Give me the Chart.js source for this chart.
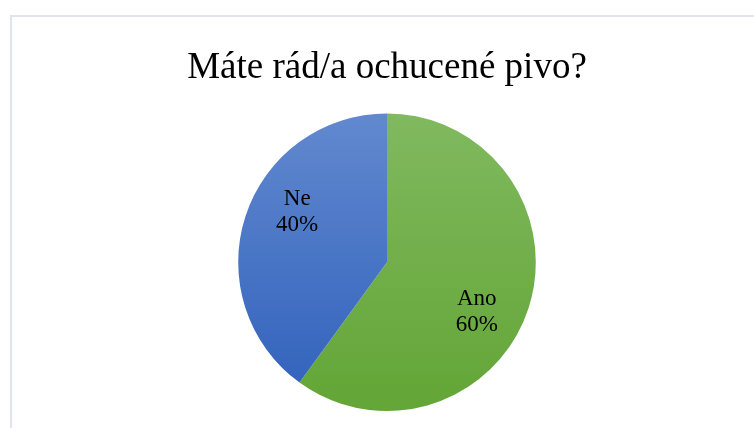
<!DOCTYPE html>
<html>
<head>
<meta charset="utf-8">
<script src="https://cdn.jsdelivr.net/npm/chart.js@4/dist/chart.umd.min.js"></script>
<style>
  html, body { margin: 0; padding: 0; background: #fff; }
  #wrap { position: relative; width: 754px; height: 428px; overflow: hidden; }
  #frame {
    position: absolute; left: 10px; top: 15px; width: 800px; height: 500px;
    border: 2px solid #e1e4ec; box-sizing: border-box;
  }
  #chart { position: absolute; left: 0; top: 0; }
</style>
</head>
<body>
<div id="wrap">
  <div id="frame"></div>
  <canvas id="chart" width="754" height="428"></canvas>
</div>
<script>
const TITLE = 'Máte rád/a ochucené pivo?';
const labels = ['Ano', 'Ne'];
const percents = [60, 40];
const gradTop = ['#80b95f', '#6289cf'];
const gradBottom = ['#63a536', '#2f60bb'];

const SERIF = '"Liberation Serif", "Times New Roman", serif';

// vertical gradient over the pie, one per slice
const sliceFill = (ctx) => {
  const i = ctx.dataIndex;
  const area = ctx.chart.chartArea;
  if (!area) return gradBottom[i];
  const g = ctx.chart.ctx.createLinearGradient(0, area.top, 0, area.bottom);
  g.addColorStop(0, gradTop[i]);
  g.addColorStop(1, gradBottom[i]);
  return g;
};

// "best fit" style labels: a bit past the slice middle, inside the pie
const sliceLabels = {
  id: 'sliceLabels',
  afterDatasetsDraw(chart) {
    const { ctx } = chart;
    const meta = chart.getDatasetMeta(0);
    const skew = 11 * Math.PI / 180;
    ctx.save();
    ctx.font = '23px ' + SERIF;
    ctx.fillStyle = '#000';
    ctx.textAlign = 'center';
    ctx.textBaseline = 'middle';
    meta.data.forEach((arc, i) => {
      const { x, y, startAngle, endAngle, outerRadius } = arc.getProps(['x', 'y', 'startAngle', 'endAngle', 'outerRadius'], true);
      const mid = (startAngle + endAngle) / 2 + skew;
      const r = outerRadius * 0.69;
      const cx = x + Math.cos(mid) * r;
      const cy = y + Math.sin(mid) * r;
      ctx.fillText(labels[i], cx, cy - 13);
      ctx.fillText(percents[i] + '%', cx, cy + 13);
    });
    ctx.restore();
  }
};

new Chart(document.getElementById('chart'), {
  type: 'pie',
  data: {
    labels,
    datasets: [{
      data: percents,
      backgroundColor: sliceFill,
      borderWidth: 0
    }]
  },
  options: {
    responsive: false,
    animation: false,
    layout: { padding: { top: 20, bottom: 17, left: 20, right: 0 } },
    plugins: {
      legend: { display: false },
      tooltip: { enabled: false },
      title: {
        display: true,
        text: TITLE,
        color: '#000',
        font: { family: SERIF, size: 37, weight: 'normal', lineHeight: 1.2 },
        padding: { top: 26, bottom: 23 }
      }
    }
  },
  plugins: [sliceLabels]
});
</script>
</body>
</html>
